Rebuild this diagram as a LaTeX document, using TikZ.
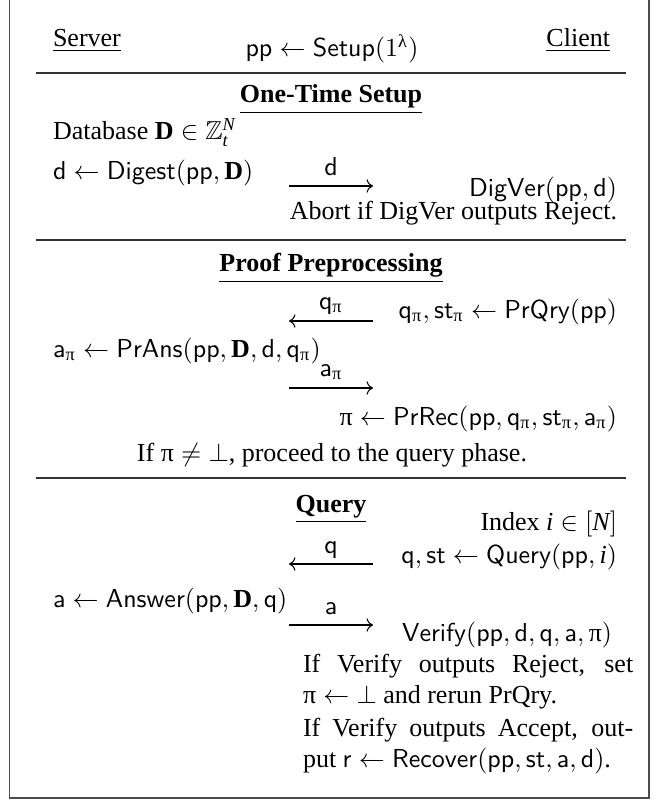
\documentclass[tikz,border=0pt]{standalone}
\usepackage{amsmath}
\usepackage{amssymb}
\usepackage{fontspec}
\setmainfont{Liberation Serif}
\usetikzlibrary{arrows.meta}
\newcommand{\mypi}{\text{π}}
\newcommand{\mylam}{\text{λ}}
\newcommand{\sfm}[1]{\mathsf{#1}}
\tikzset{
  txt/.style={inner sep=0pt, outer sep=0pt},
  lbl/.style={inner sep=0pt},
  msg/.style={line width=0.4pt, -{Computer Modern Rightarrow}},
  rulel/.style={line width=0.6pt, black!80},
  frame/.style={line width=0.6pt, black!70}
}
\begin{document}
\begin{tikzpicture}[x=0.3846pt,y=-0.3846pt]
\useasboundingbox (0,0) rectangle (655,801);
% frame (open at top)
\draw[frame] (9.5,0) -- (9.5,798) -- (649,798) -- (649,0);
% header
\node[txt,anchor=base west] (server) at (53,47) {\underline{Server}};
\node[txt,anchor=base east] (client) at (610,47) {\underline{Client}};
\node[txt,anchor=base] (setup) at (332,57) {$\sfm{pp}\leftarrow\sfm{Setup}(1^{\mylam})$};
\draw[rulel] (36,73) -- (626,73);
% one-time setup
\node[txt,anchor=base] (t1) at (331,103) {\underline{\textbf{One-Time Setup}}};
\node[txt,anchor=base west] (db) at (53,140) {Database $\mathbf{D}\in\mathbb{Z}_{\mathit{t}}^{\mathit{N}}$};
\node[txt,anchor=base west] (dig) at (53,180) {$\sfm{d}\leftarrow\sfm{Digest}(\sfm{pp},\mathbf{D})$};
\coordinate (d1) at (289,186);
\coordinate (d2) at (373,186);
\draw[msg] (d1) -- (d2);
\node[lbl,anchor=base] (dl) at (331,176) {$\sfm{d}$};
\node[txt,anchor=base east] (digver) at (617,197) {$\sfm{DigVer}(\sfm{pp},\sfm{d})$};
\node[txt,anchor=base east] (abort) at (617,220) {Abort if DigVer outputs Reject.};
\draw[rulel] (36,240) -- (626,240);
% proof preprocessing
\node[txt,anchor=base] (t2) at (331,272) {\underline{\textbf{Proof Preprocessing}}};
\coordinate (q1) at (373,321);
\coordinate (q2) at (289,321);
\draw[msg] (q1) -- (q2);
\node[lbl,anchor=base] (ql) at (331,309) {$\sfm{q}_{\mypi}$};
\node[txt,anchor=base east] (prqry) at (617,318) {$\sfm{q}_{\mypi},\sfm{st}_{\mypi}\leftarrow\sfm{PrQry}(\sfm{pp})$};
\node[txt,anchor=base west] (prans) at (53,357) {$\sfm{a}_{\mypi}\leftarrow\sfm{PrAns}(\sfm{pp},\mathbf{D},\sfm{d},\sfm{q}_{\mypi})$};
\coordinate (a1) at (289,388);
\coordinate (a2) at (373,388);
\draw[msg] (a1) -- (a2);
\node[lbl,anchor=base] (al) at (331,376) {$\sfm{a}_{\mypi}$};
\node[txt,anchor=base east] (prrec) at (617,425) {$\mypi\leftarrow\sfm{PrRec}(\sfm{pp},\sfm{q}_{\mypi},\sfm{st}_{\mypi},\sfm{a}_{\mypi})$};
\node[txt,anchor=base] (ifpi) at (332,461) {If $\mypi\neq\bot$, proceed to the query phase.};
\draw[rulel] (36,478) -- (626,478);
% query
\node[txt,anchor=base] (t3) at (331,512) {\underline{\textbf{Query}}};
\node[txt,anchor=base east] (index) at (617,530) {Index $\mathit{i}\in[\mathit{N}]$};
\coordinate (r1) at (373,564);
\coordinate (r2) at (289,564);
\draw[msg] (r1) -- (r2);
\node[lbl,anchor=base] (rl) at (331,553) {$\sfm{q}$};
\node[txt,anchor=base east] (query) at (617,563) {$\sfm{q},\sfm{st}\leftarrow\sfm{Query}(\sfm{pp},\mathit{i})$};
\node[txt,anchor=base west] (answer) at (53,607) {$\sfm{a}\leftarrow\sfm{Answer}(\sfm{pp},\mathbf{D},\sfm{q})$};
\coordinate (s1) at (289,625);
\coordinate (s2) at (373,625);
\draw[msg] (s1) -- (s2);
\node[lbl,anchor=base] (sl) at (331,614) {$\sfm{a}$};
\node[txt,anchor=base east] (verify) at (612,641) {$\sfm{Verify}(\sfm{pp},\sfm{d},\sfm{q},\sfm{a},\mypi)$};
\node[txt,anchor=base west] (l1) at (303,672) {\makebox[127pt][s]{If Verify outputs Reject, set}};
\node[txt,anchor=base west] (l2) at (303,703) {$\mypi\leftarrow\bot$ and rerun PrQry.};
\node[txt,anchor=base west] (l3) at (303,736) {\makebox[127pt][s]{If Verify outputs Accept, out-}};
\node[txt,anchor=base west] (l4) at (303,767) {put $\sfm{r}\leftarrow\sfm{Recover}(\sfm{pp},\sfm{st},\sfm{a},\sfm{d})$.};
\end{tikzpicture}
\end{document}
